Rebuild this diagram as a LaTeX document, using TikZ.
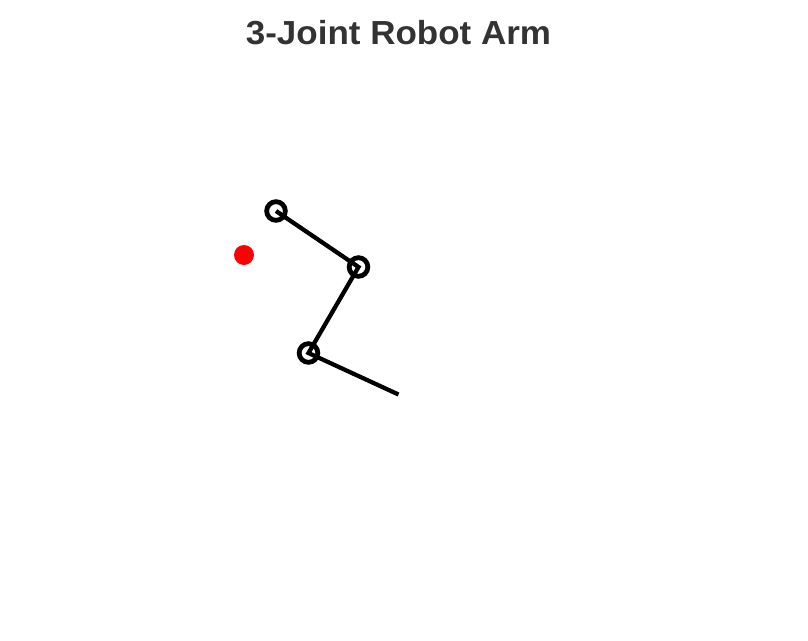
\documentclass[tikz,border=0pt]{standalone}
\usepackage{fontspec}
\setmainfont{Liberation Sans}
\newfontfamily\titlefont[FakeStretch=1.05]{Liberation Sans}
\definecolor{titlegray}{HTML}{333333}
\definecolor{targetred}{HTML}{FF0000}
\begin{document}
\begin{tikzpicture}[x=0.75pt,y=-0.75pt,
  joint/.style={circle,draw=black,line width=3.6pt,inner sep=0pt,minimum size=14pt},
  link/.style={draw=black,line width=3.2pt},
  target/.style={circle,fill=targetred,inner sep=0pt,minimum size=15pt}]
\useasboundingbox[fill=white] (0,0) rectangle (808,640);
\node[text=titlegray,anchor=base,inner sep=0pt,font=\titlefont\fontsize{25pt}{30pt}\selectfont\bfseries] (title) at (398.5,44) {3-Joint Robot Arm};
\node[target] (goal) at (244,255) {};
\node[joint] (j1) at (276,211) {};
\node[joint] (j2) at (358.5,267) {};
\node[joint] (j3) at (308.5,353) {};
\coordinate (tip) at (398.5,394.5);
\draw[link] (j1.center) -- (j2.center) -- (j3.center) -- (tip);
\end{tikzpicture}
\end{document}
